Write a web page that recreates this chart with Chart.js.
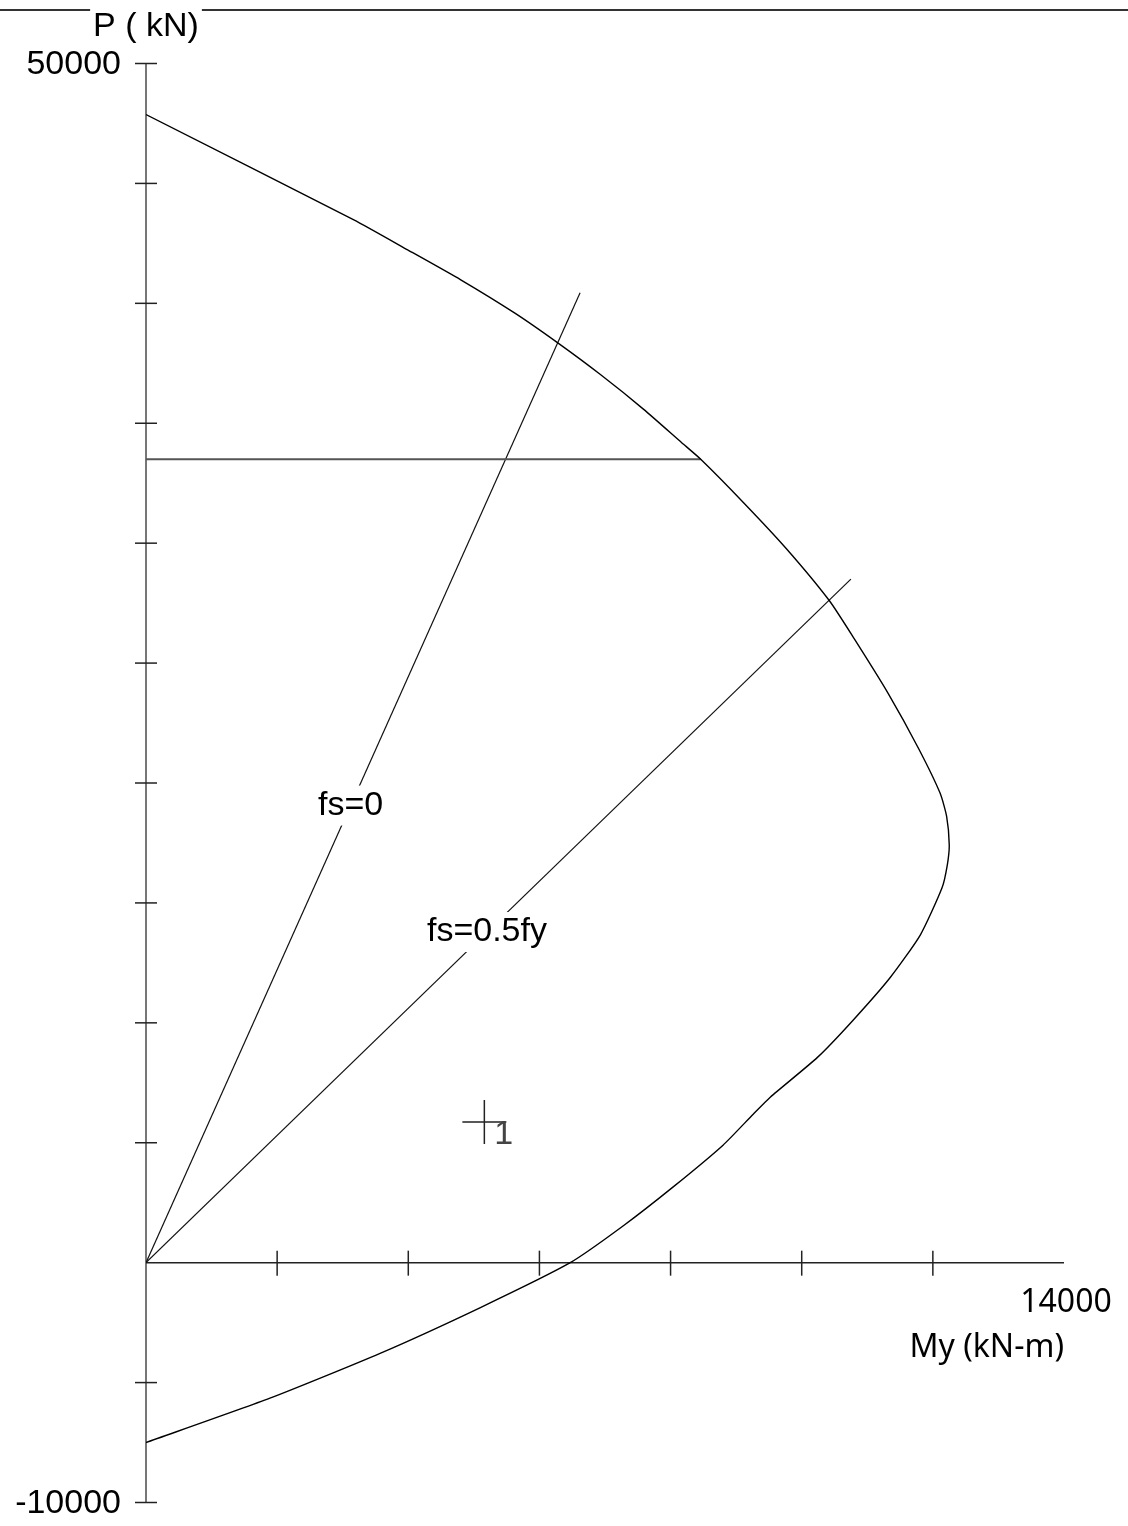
<!DOCTYPE html>
<html>
<head>
<meta charset="UTF-8">
<title>P-My interaction</title>
<script src="https://cdn.jsdelivr.net/npm/chart.js"></script>
<style>
  html, body { margin: 0; padding: 0; background: #fff; overflow: hidden; }
  canvas { display: block; }
</style>
</head>
<body>
<canvas id="pm" width="1128" height="1526"></canvas>
<script>
// interaction curve, My (kN-m) vs P (kN), traced from top (pure compression) to bottom (pure tension)
const curveM = [0, 3170, 3990, 4800, 5620, 6280, 6930, 7590, 8170, 8460, 9110, 9770, 10420, 10800,
                11320, 11780, 12110, 12210, 12250, 12220, 12140, 11810, 11350, 10780, 10240, 9520, 9260,
                8800, 8040, 7280, 6470, 5100, 3570, 1890, 0];
const curveP = [47870, 43480, 42230, 40980, 39600, 38350, 37030, 35580, 34190, 33500, 31700, 29760, 27610, 26020,
                23730, 21450, 19580, 18610, 17420, 16580, 15630, 13670, 11890, 10100, 8560, 6900, 6190,
                4900, 3160, 1540, 0, -1870, -3780, -5650, -7500];

// max axial load cut-off
const capM = [0, 8460];
const capP = [33500, 33500];

// strain lines through the origin
const fs0M = [0, 6620];
const fs0P = [0, 40440];
const fsHalfM = [0, 10750];
const fsHalfP = [0, 28500];

// load point
const loadM = [5160];
const loadP = [5860];
const loadNames = ['1'];

// axes
const pTicks = [-10000, -5000, 0, 5000, 10000, 15000, 20000, 25000, 30000, 35000, 40000, 45000, 50000];
const pTickLabels = { '50000': '50000', '-10000': '-10000' };
const mTicks = [2000, 4000, 6000, 8000, 10000, 12000];
const mMax = 14000;

const ARIAL = "'Liberation Sans', Arial, sans-serif";
const NOTO = "'Noto Sans', 'Open Sans', sans-serif";

const pts = (xs, ys) => xs.map((x, i) => ({ x: x, y: ys[i] }));

const axesPlugin = {
  id: 'pmAxes',
  beforeDatasetsDraw(chart) {
    const ctx = chart.ctx;
    const xs = chart.scales.x, ys = chart.scales.y;
    const x0 = xs.getPixelForValue(0), y0 = ys.getPixelForValue(0);
    ctx.save();
    // P axis
    ctx.strokeStyle = '#777';
    ctx.lineWidth = 2;
    ctx.beginPath();
    ctx.moveTo(x0, ys.getPixelForValue(pTicks[0]));
    ctx.lineTo(x0, ys.getPixelForValue(pTicks[pTicks.length - 1]));
    ctx.stroke();
    ctx.strokeStyle = '#222';
    ctx.lineWidth = 1.5;
    pTicks.forEach(v => {
      if (v === 0) return;
      const y = ys.getPixelForValue(v);
      ctx.beginPath();
      ctx.moveTo(x0 - 11, y);
      ctx.lineTo(x0 + 11, y);
      ctx.stroke();
    });
    // M axis
    ctx.beginPath();
    ctx.moveTo(x0, y0);
    ctx.lineTo(xs.getPixelForValue(mMax), y0);
    ctx.stroke();
    mTicks.forEach(v => {
      const x = xs.getPixelForValue(v);
      ctx.beginPath();
      ctx.moveTo(x, y0 - 12);
      ctx.lineTo(x, y0 + 13);
      ctx.stroke();
    });

    // tick labels
    ctx.fillStyle = '#000';
    ctx.font = '34px ' + ARIAL;
    ctx.textAlign = 'right';
    ctx.textBaseline = 'middle';
    Object.keys(pTickLabels).forEach(k => {
      ctx.fillText(pTickLabels[k], x0 - 25, ys.getPixelForValue(+k) + 1);
    });
    ctx.font = '32px ' + NOTO;
    ctx.textAlign = 'center';
    ctx.fillText(String(mMax), xs.getPixelForValue(mMax) + 2, y0 + 40);
    ctx.textAlign = 'right';
    ctx.fillText('My (kN-m)', xs.getPixelForValue(mMax), y0 + 85);

    // frame line with the P title sitting in it
    ctx.font = '34px ' + ARIAL;
    const title = 'P ( kN)';
    const tw = ctx.measureText(title).width;
    ctx.textAlign = 'center';
    ctx.fillText(title, x0, 27);
    ctx.strokeStyle = '#333';
    ctx.lineWidth = 2;
    ctx.beginPath();
    ctx.moveTo(0, 10);
    ctx.lineTo(x0 - tw / 2 - 3, 10);
    ctx.moveTo(x0 + tw / 2 + 3, 10);
    ctx.lineTo(chart.width, 10);
    ctx.stroke();
    ctx.restore();
  },
  afterDatasetsDraw(chart) {
    const ctx = chart.ctx;
    const xs = chart.scales.x, ys = chart.scales.y;
    ctx.save();
    ctx.font = '34px ' + ARIAL;
    ctx.textAlign = 'center';
    ctx.textBaseline = 'middle';
    // line labels, placed on their lines
    const lineLabel = (text, m, mx, px) => {
      const p = px / mx * m;
      const x = xs.getPixelForValue(m), y = ys.getPixelForValue(p);
      const w = ctx.measureText(text).width;
      ctx.fillStyle = '#fff';
      ctx.fillRect(x - w / 2 - 2, y - 20, w + 4, 40);
      ctx.fillStyle = '#000';
      ctx.fillText(text, x, y);
    };
    lineLabel('fs=0', 3120, fs0M[1], fs0P[1]);
    lineLabel('fs=0.5fy', 5200, fsHalfM[1], fsHalfP[1]);

    ctx.font = '34px ' + ARIAL;
    ctx.fillStyle = '#444';
    ctx.textAlign = 'left';
    ctx.textBaseline = 'alphabetic';
    loadM.forEach((m, i) => {
      ctx.fillText(loadNames[i], xs.getPixelForValue(m) + 10, ys.getPixelForValue(loadP[i]) + 22);
    });
    ctx.restore();
  }
};

new Chart(document.getElementById('pm'), {
  type: 'scatter',
  data: {
    datasets: [
      { data: pts(curveM, curveP), showLine: true, borderColor: '#000', borderWidth: 1.4, pointRadius: 0, tension: 0.2 },
      { data: pts(capM, capP), showLine: true, borderColor: '#555', borderWidth: 2, pointRadius: 0 },
      { data: pts(fs0M, fs0P), showLine: true, borderColor: '#111', borderWidth: 1.2, pointRadius: 0 },
      { data: pts(fsHalfM, fsHalfP), showLine: true, borderColor: '#111', borderWidth: 1.2, pointRadius: 0 },
      { data: pts(loadM, loadP), showLine: false, pointStyle: 'cross', pointRadius: 22,
        borderColor: '#222', borderWidth: 1.5, backgroundColor: 'transparent' }
    ]
  },
  options: {
    responsive: false,
    animation: false,
    events: [],
    layout: { padding: { left: 146, right: 64, top: 63.5, bottom: 19.5 } },
    scales: {
      x: { type: 'linear', display: false, min: 0, max: mMax },
      y: { type: 'linear', display: false, min: -10000, max: 50000 }
    },
    plugins: { legend: { display: false }, tooltip: { enabled: false } }
  },
  plugins: [axesPlugin]
});
</script>
</body>
</html>
